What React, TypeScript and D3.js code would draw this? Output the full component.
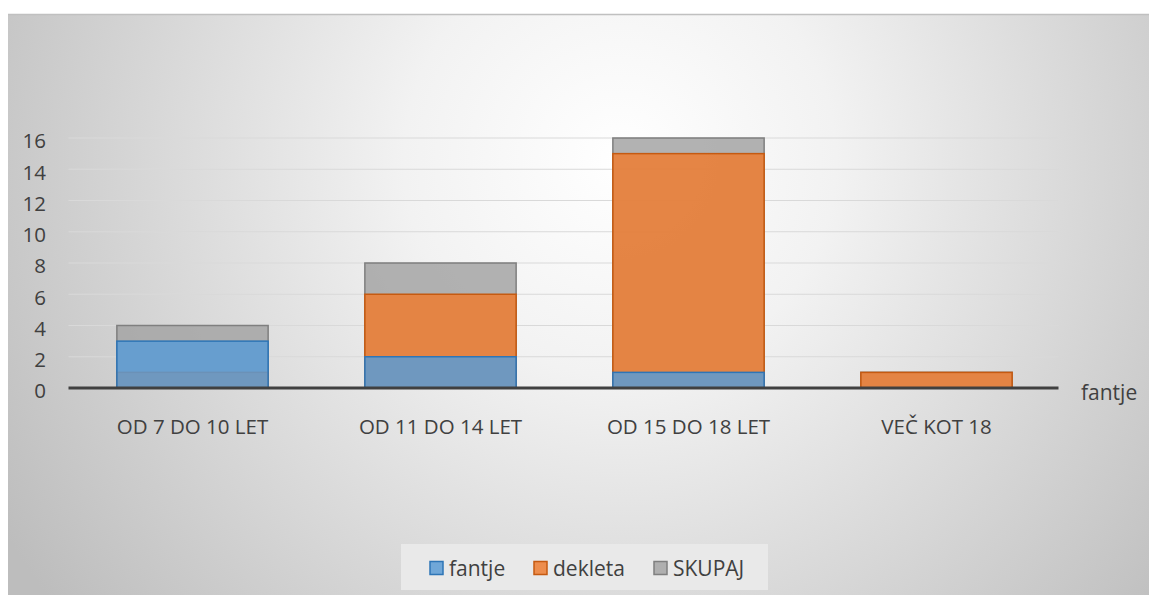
import * as d3 from "d3";
import { FC } from "react";

// podatki
const categories = ["OD 7 DO 10 LET", "OD 11 DO 14 LET", "OD 15 DO 18 LET", "VEČ KOT 18"];
const fantje = [3, 2, 1, 0];
const dekleta = [1, 6, 15, 1];
const skupaj = [4, 8, 16, 1];
const yTicks = [0, 2, 4, 6, 8, 10, 12, 14, 16];

const W = 1149;
const H = 595;
const FONT = "'Open Sans', 'Noto Sans', sans-serif";

const series = [
  { key: "SKUPAJ", values: skupaj, fill: "#a5a5a5", stroke: "#7f7f7f" },
  { key: "dekleta", values: dekleta, fill: "#ed7d31", stroke: "#c55a11" },
  { key: "fantje", values: fantje, fill: "#5b9bd5", stroke: "#2e75b6" },
];
const legendItems = [series[2], series[1], series[0]];

const App: FC = () => {
  const plot = { left: 68.5, right: 1060.5, top: 138, bottom: 388 };

  const x = d3
    .scaleBand<string>()
    .domain(categories)
    .range([plot.left, plot.right])
    .paddingInner(0.39)
    .paddingOuter(0.195);

  const y = d3.scaleLinear().domain([0, 16]).range([plot.bottom, plot.top]);

  return (
    <svg
      width={W}
      height={H}
      style={{ position: "absolute", left: 0, top: 0, display: "block" }}
    >
      <defs>
        <radialGradient id="bg" gradientUnits="userSpaceOnUse" cx={620} cy={160} r={720}>
          <stop offset="0" stopColor="#ffffff" />
          <stop offset="0.3" stopColor="#f2f2f2" />
          <stop offset="1" stopColor="#bdbdbd" />
        </radialGradient>
      </defs>
      <rect x={0} y={0} width={W} height={H} fill="#ffffff" />
      <rect x={8} y={14} width={W - 8} height={H - 14} fill="url(#bg)" />
      <line x1={8} x2={W} y1={14.5} y2={14.5} stroke="#c0c0c0" strokeWidth={1.5} />

      {/* mreža */}
      {yTicks
        .filter((t) => t > 0)
        .map((t) => (
          <line
            key={t}
            x1={plot.left}
            x2={plot.right - 2}
            y1={y(t)}
            y2={y(t)}
            stroke="#d9d9d9"
            strokeWidth={1.2}
          />
        ))}

      {/* y os oznake */}
      {yTicks.map((t) => (
        <text
          key={t}
          x={46}
          y={y(t) + 5}
          textAnchor="end"
          dominantBaseline="middle"
          fontFamily={FONT}
          fontSize={20.5}
          fill="#404040"
        >
          {t}
        </text>
      ))}

      {/* stolpci (prekrivanje 100%) */}
      {series.map((s) =>
        categories.map((c, i) =>
          s.values[i] > 0 ? (
            <rect
              key={s.key + c}
              x={x(c)!}
              y={y(s.values[i])}
              width={x.bandwidth()}
              height={y(0) - y(s.values[i])}
              fill={s.fill}
              fillOpacity={0.85}
              stroke={s.stroke}
              strokeWidth={1.5}
            />
          ) : null
        )
      )}

      {/* x os */}
      <line
        x1={plot.left}
        x2={plot.right - 2}
        y1={plot.bottom}
        y2={plot.bottom}
        stroke="#404040"
        strokeWidth={3}
      />
      {categories.map((c) => (
        <text
          key={c}
          x={x(c)! + x.bandwidth() / 2}
          y={434}
          textAnchor="middle"
          fontFamily={FONT}
          fontSize={20.5}
          fill="#404040"
        >
          {c}
        </text>
      ))}
      <text x={1081} y={400} fontFamily={FONT} fontSize={21} fill="#404040">
        fantje
      </text>

      {/* legenda */}
      <rect x={401} y={544} width={367} height={46} fill="#e9e9e9" />
      {legendItems.map((s, i) => {
        const lx = [430, 534, 654][i];
        return (
          <g key={s.key}>
            <rect
              x={lx}
              y={561.5}
              width={13}
              height={13}
              fill={s.fill}
              fillOpacity={0.85}
              stroke={s.stroke}
              strokeWidth={1.5}
            />
            <text x={lx + 19} y={576} fontFamily={FONT} fontSize={21} fill="#404040">
              {s.key}
            </text>
          </g>
        );
      })}
    </svg>
  );
};

export default App;
